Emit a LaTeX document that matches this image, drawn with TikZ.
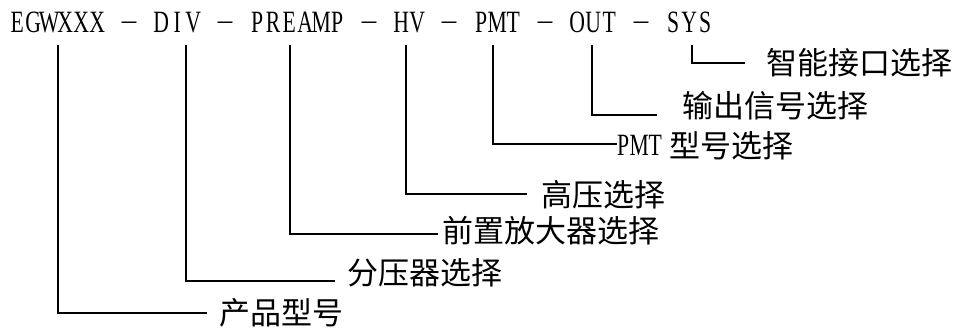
\documentclass[tikz,border=0pt]{standalone}
\usepackage{fontspec}
\newfontfamily\cjk{Noto Sans CJK SC}
\newfontfamily\latc[FakeStretch=0.7]{Liberation Serif}
\newfontfamily\latn{Liberation Serif}
\makeatletter
\newcommand\monotext[1]{\@tfor\mt@c:=#1\do{\makebox[16pt]{\mt@c}}}
\makeatother
\tikzset{
  word/.style={inner sep=0pt, anchor=base west, font=\latc\fontsize{31}{36}\selectfont},
  dashsym/.style={inner sep=0pt, anchor=base, font=\latn\fontsize{29}{34}\selectfont},
  lbl/.style={inner sep=0pt, anchor=base west, font=\cjk\fontsize{31}{36}\selectfont},
  conn/.style={line width=2pt, line join=miter}
}
\begin{document}
\begin{tikzpicture}[x=1pt,y=1pt]
\useasboundingbox[fill=white] (0,0) rectangle (956,-327);
% top code line
\node[word] (w1) at (9,-32) {\monotext{EGWXXX}};
\node[dashsym] (d1) at (129,-29) {\textendash};
\node[word] (w2) at (153,-32) {\monotext{DIV}};
\node[dashsym] (d2) at (225,-29) {\textendash};
\node[word] (w3) at (249,-32) {\monotext{PREAMP}};
\node[dashsym] (d3) at (369,-29) {\textendash};
\node[word] (w4) at (393,-32) {\monotext{HV}};
\node[dashsym] (d4) at (449,-29) {\textendash};
\node[word] (w5) at (473,-32) {\monotext{PMT}};
\node[dashsym] (d5) at (545,-29) {\textendash};
\node[word] (w6) at (569,-32) {\monotext{OUT}};
\node[dashsym] (d6) at (641,-29) {\textendash};
\node[word] (w7) at (665,-32) {\monotext{SYS}};
% connector start points
\coordinate (t1) at (58,-45);
\coordinate (t2) at (186,-45);
\coordinate (t3) at (290,-45);
\coordinate (t4) at (406,-45);
\coordinate (t5) at (493,-45);
\coordinate (t6) at (592,-45);
\coordinate (t7) at (692,-45);
% connector end points
\coordinate (e1) at (207,-313);
\coordinate (e2) at (335,-281);
\coordinate (e3) at (438,-234);
\coordinate (e4) at (527,-194);
\coordinate (e5) at (617,-144);
\coordinate (e6) at (657,-115);
\coordinate (e7) at (745,-63);
% labels
\node[lbl] (l1) at (219,-324) {产品型号};
\node[lbl] (l2) at (347,-284) {分压器选择};
\node[lbl] (l3) at (442,-242) {前置放大器选择};
\node[lbl] (l4) at (541,-206) {高压选择};
\node[word] (l5a) at (615,-155) {\monotext{PMT}};
\node[lbl] (l5) at (669,-157) {型号选择};
\node[lbl] (l6) at (682,-117) {输出信号选择};
\node[lbl] (l7) at (766,-74) {智能接口选择};
% connectors
\draw[conn] (t1) |- (e1);
\draw[conn] (t2) |- (e2);
\draw[conn] (t3) |- (e3);
\draw[conn] (t4) |- (e4);
\draw[conn] (t5) |- (e5);
\draw[conn] (t6) |- (e6);
\draw[conn] (t7) |- (e7);
\end{tikzpicture}
\end{document}
